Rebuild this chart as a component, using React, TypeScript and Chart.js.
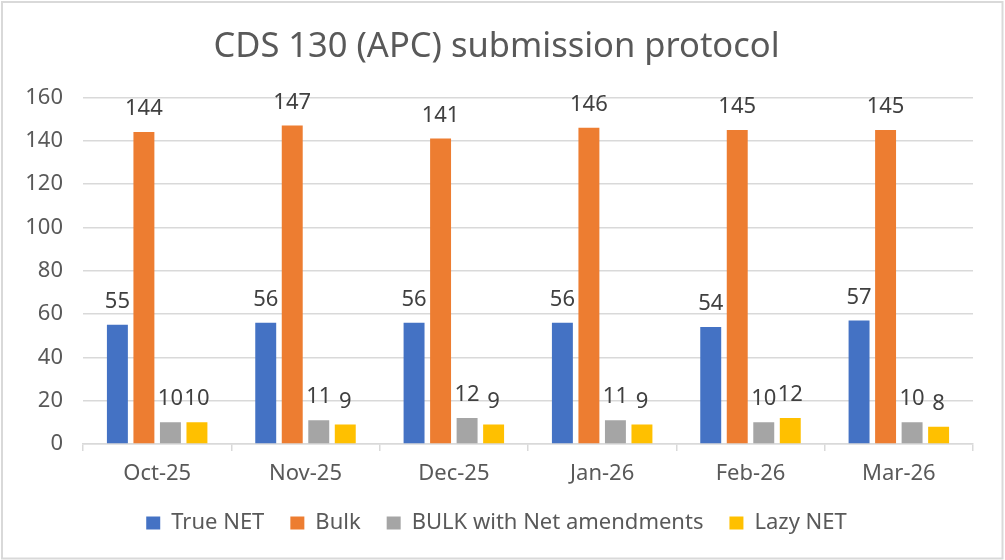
import React, { useEffect, useRef } from "react";
import { Chart, registerables } from "chart.js";

Chart.register(...registerables);

const categories = ["Oct-25", "Nov-25", "Dec-25", "Jan-26", "Feb-26", "Mar-26"];
const trueNet = [55, 56, 56, 56, 54, 57];
const bulk = [144, 147, 141, 146, 145, 145];
const bulkWithNet = [10, 11, 12, 11, 10, 10];
const lazyNet = [10, 9, 9, 9, 12, 8];
const seriesNames = ["True NET", "Bulk", "BULK with Net amendments", "Lazy NET"];
const seriesColors = ["#4472C4", "#ED7D31", "#A5A5A5", "#FFC000"];
const titleText = "CDS 130 (APC) submission protocol";

const FONT = "'Noto Sans', 'Open Sans', sans-serif";

const bgBorderPlugin = {
  id: "bgBorder",
  beforeDraw(chart: any) {
    const ctx = chart.ctx;
    ctx.save();
    ctx.fillStyle = "#ffffff";
    ctx.fillRect(0, 0, chart.width, chart.height);
    ctx.strokeStyle = "#d9d9d9";
    ctx.lineWidth = 2;
    ctx.strokeRect(2, 2, chart.width - 4.5, chart.height - 3.5);
    ctx.restore();
  },
};

const dataLabelPlugin = {
  id: "dataLabels",
  afterDatasetsDraw(chart: any) {
    const ctx = chart.ctx;
    ctx.save();
    ctx.font = `22px ${FONT}`;
    ctx.fillStyle = "#404040";
    ctx.textAlign = "center";
    ctx.textBaseline = "alphabetic";
    chart.data.datasets.forEach((ds: any, i: number) => {
      const meta = chart.getDatasetMeta(i);
      meta.data.forEach((bar: any, j: number) => {
        ctx.fillText(String(ds.data[j]), bar.x, bar.y - 17);
      });
    });
    ctx.restore();
  },
};

export default function App() {
  const ref = useRef<HTMLCanvasElement | null>(null);

  useEffect(() => {
    if (!ref.current) return;
    const values = [trueNet, bulk, bulkWithNet, lazyNet];
    const chart = new Chart(ref.current, {
      type: "bar",
      data: {
        labels: categories,
        datasets: values.map((v, i) => ({
          label: seriesNames[i],
          data: v,
          backgroundColor: seriesColors[i],
          borderWidth: 0,
          categoryPercentage: 0.715,
          barPercentage: 0.79,
        })),
      },
      options: {
        animation: false,
        responsive: false,
        maintainAspectRatio: false,
        layout: { padding: { left: 20, right: 32, top: 0, bottom: 16 } },
        plugins: {
          title: {
            display: true,
            text: titleText,
            color: "#595959",
            font: { family: FONT, size: 34.5, weight: "normal" as any },
            padding: { top: 26, bottom: 30 },
          },
          legend: {
            position: "bottom",
            labels: {
              color: "#595959",
              font: { family: FONT, size: 22 },
              boxWidth: 14,
              boxHeight: 13,
              padding: 26,
            },
          },
          tooltip: { enabled: false },
        },
        scales: {
          x: {
            afterFit: (scale: any) => {
              scale.height = 42;
            },
            grid: {
              display: true,
              drawOnChartArea: false,
              drawTicks: true,
              tickLength: 7,
              color: "#d9d9d9",
              lineWidth: 1.5,
            },
            border: { display: true, color: "#d9d9d9", width: 1.5 },
            ticks: {
              color: "#595959",
              font: { family: FONT, size: 22 },
              padding: 10,
              maxRotation: 0,
            },
          },
          y: {
            min: 0,
            max: 160,
            afterFit: (scale: any) => {
              scale.width = 63;
            },
            ticks: {
              stepSize: 20,
              color: "#595959",
              font: { family: FONT, size: 22 },
              padding: 20,
            },
            grid: { color: "#d9d9d9", lineWidth: 1.5, drawTicks: false },
            border: { display: false },
          },
        },
      },
      plugins: [bgBorderPlugin, dataLabelPlugin],
    });
    return () => chart.destroy();
  }, []);

  return (
    <div style={{ position: "absolute", left: 0, top: 0, width: 1005, height: 560 }}>
      <canvas ref={ref} width={1005} height={560} style={{ display: "block", width: 1005, height: 560 }} />
    </div>
  );
}
